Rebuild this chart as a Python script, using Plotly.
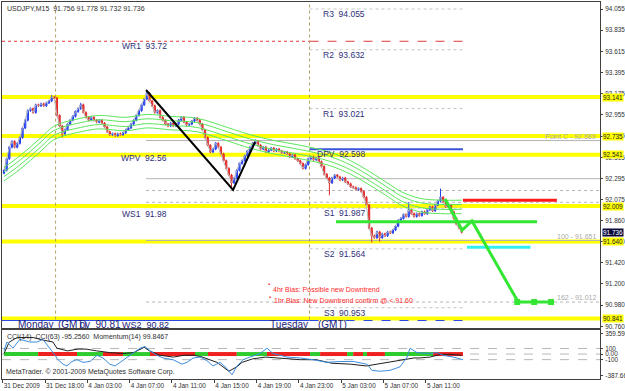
import plotly.graph_objects as go

# ---------------- data ----------------
closes = [
    92.38, 92.50, 92.62, 92.68, 92.62, 92.66, 92.72, 92.82, 92.90, 93.00,
    93.02, 92.98, 93.06, 93.05, 93.07, 93.05, 93.08, 93.10, 93.14, 93.13,
    92.95, 92.84, 92.76, 92.80, 92.86, 92.90, 92.94, 92.99, 93.02, 93.06,
    92.98, 92.93, 92.90, 92.93, 92.90, 92.88, 92.90, 92.87, 92.83, 92.78,
    92.75, 92.76, 92.74, 92.76, 92.75, 92.77, 92.80, 92.82, 92.86, 92.90,
    92.95, 93.00, 93.06, 93.12, 93.18, 93.10, 93.05, 92.98, 93.00, 92.93,
    92.90, 92.86, 92.84, 92.87, 92.84, 92.86, 92.90, 92.93, 92.88, 92.85,
    92.86, 92.89, 92.92, 92.90, 92.86, 92.80, 92.72, 92.64, 92.57, 92.60,
    92.66, 92.62, 92.55, 92.48, 92.40, 92.33, 92.25, 92.30, 92.38, 92.45,
    92.48, 92.53, 92.58, 92.62, 92.66, 92.68, 92.64, 92.60, 92.62, 92.57,
    92.59, 92.61, 92.58, 92.60, 92.58, 92.56, 92.57, 92.55, 92.52, 92.54,
    92.50, 92.48, 92.45, 92.40, 92.44, 92.50, 92.52, 92.49, 92.51, 92.47,
    92.42, 92.34, 92.30, 92.25, 92.30, 92.33, 92.31, 92.28, 92.30, 92.26,
    92.24, 92.21, 92.20, 92.18, 92.19, 92.16, 92.10, 92.02, 91.78, 91.70,
    91.68, 91.74, 91.68, 91.72, 91.70, 91.74, 91.73, 91.76, 91.80, 91.86,
    91.88, 91.92, 91.90, 91.97, 91.93, 91.90, 91.93, 91.91, 91.95, 91.93,
    91.97, 92.00, 91.96, 92.02, 92.06, 92.10, 92.05, 92.00, 92.02, 91.95,
    91.88, 91.82, 91.78, 91.736,
]
hi_idx = [18, 29, 54, 95, 153, 165]
hi_val = [93.16, 93.08, 93.21, 92.70, 92.05, 92.19]
lo_idx = [22, 86, 123, 139, 142]
lo_val = [92.72, 92.19, 92.12, 91.63, 91.64]

ma_bars = [0, 6, 14, 19, 29, 36, 46, 54, 63, 73, 85, 93, 102, 112, 123, 131, 138, 146, 150, 157, 165, 173]
ma_vals = [92.34, 92.46, 92.65, 92.77, 92.85, 92.88, 92.86, 92.89, 92.87, 92.85, 92.75,
           92.68, 92.62, 92.57, 92.50, 92.41, 92.30, 92.16, 92.09, 92.02, 92.00, 92.00]
ma_offsets = [-0.07, -0.025, 0.025, 0.07]

yellow_levels = [93.141, 92.735, 92.541, 92.009, 91.640, 90.841]
weekly_names = ["WR1", "WPV", "WS1", "WS2"]
weekly_vals = [93.72, 92.56, 91.98, 90.82]
daily_names = ["R3", "R2", "R1", "DPV", "S1", "S2", "S3"]
daily_vals = [94.055, 93.632, 93.021, 92.598, 91.987, 91.564, 90.953]
fib_names = ["Point C", "38.2", "50", "61.8", "100", "162"]
fib_vals = [92.689, 92.293, 92.170, 92.048, 91.651, 91.012]
fib_dotted = [False, False, True, True, False, True]
fib_labelled = [True, False, False, False, True, True]

zigzag_bars = [53.7, 86.6, 94.9]
zigzag_vals = [93.214, 92.176, 92.674]
proj_bars = [166.7, 173.2, 176.9, 194.0]
proj_vals = [92.082, 91.76, 91.854, 91.03]
target_bars = [194.0, 200.4, 206.8]
target_val = 91.012
green_lvl_bars = [125.5, 201.5]
green_lvl = 91.845
red_lvl_bars = [173.5, 209.0]
red_lvl = 92.07
cyan_lvl_bars = [175.0, 199.0]
cyan_lvl = 91.58
day_sep_bars = [19.5, 115.5]
current_price = 91.736

price_ticks = [94.055, 93.835, 93.615, 93.395, 93.175, 92.955, 92.735, 92.515,
               92.295, 92.075, 91.860, 91.640, 91.420, 91.200, 90.980, 90.760]
time_tick_bars = [-0.5, 15.5, 31.5, 47.5, 63.5, 79.5, 95.5, 111.5, 127.5, 143.5, 159.5]
time_tick_text = ["31 Dec 2009", "31 Dec 18:00", "4 Jan 03:00", "4 Jan 07:00", "4 Jan 11:00",
                  "4 Jan 15:00", "4 Jan 19:00", "4 Jan 23:00", "5 Jan 03:00", "5 Jan 07:00",
                  "5 Jan 11:00"]

cci_black_bars = [0, 2, 5, 11, 15, 18.5, 20, 24, 28, 31, 35, 40, 45, 49, 53, 55, 59, 64, 68, 72,
                  75, 78, 80.5, 85, 88, 90, 94, 99, 105, 112, 118, 124, 131, 137, 141, 145, 150,
                  155, 157, 161, 165, 169, 173]
cci_black_vals = [10, 216, 296, 296, 248, 216, 105, 57, 89, 89, 57, 26, 10, 26, 121, 57, -22, -54,
                  -22, -22, -54, -101, -149, -308, -229, -149, -86, -54, -70, -101, -101, -165,
                  -181, -213, -181, -149, -101, -70, -70, -54, -6, -6, -22]
cci_blue_bars = [0, 1.1, 3.4, 6, 9.8, 12.5, 14.7, 17.4, 19.3, 20.4, 22.3, 23.8, 25.7, 27.6, 29.9,
                 32.5, 35.2, 37.4, 40, 42, 43.9, 46.5, 48.8, 51.4, 53.3, 55.2, 57.8, 60.1, 63.9,
                 67.3, 69.2, 71.5, 74.1, 76.7, 79, 81.7, 84.3, 86.2, 88.1, 90.4, 93, 96.8, 99.4,
                 101.7, 107, 111.9, 116.8, 122.1, 127, 132, 137.2, 139.1, 142.2, 145.9, 149.7,
                 152.4, 153.5, 156.1, 161, 163.7, 166, 169.8, 173.5]
cci_blue_vals = [57, 216, 105, 264, 216, 216, 264, 105, -22, -101, -181, -213, -133, -101, -149,
                 -133, -22, -70, -181, -213, -149, -54, 26, 105, 137, 57, -22, -70, -101, -181,
                 -149, -70, -54, -117, -213, -149, -260, -372, -213, -101, -54, 10, 105, 10, -54,
                 -70, -101, -149, -133, -133, -181, -292, -308, -292, -229, -54, 105, 26, 10, 26,
                 -22, -54, -101]
cci_levels = [100, 0, -100]
sign_edges = [0, 12.9, 27.6, 37.4, 45, 55.2, 72.2, 77.1, 88, 99.4, 115.7, 119.5, 129.7, 132,
              135.7, 137.2, 144, 162.2, 173.5]
sign_cols = ["g", "r", "g", "r", "g", "r", "g", "r", "g", "r", "g", "r", "g", "r", "g", "r",
             "g", "r"]
ind_ticks = [359.59, 100, 0, -100, -387.663]
ind_tick_text = ["359.590", "100", "0.00", "-100", "-387.663"]

# ---------------- geometry ----------------
W, H = 625, 391
ML, MR, MT, MB = 2, 25, 2, 12
X_RANGE = [-0.756, 225.3]
Y_MAIN = [90.7425, 94.1277]
Y_IND = [-447, 431]
FONT = "Liberation Sans, Arial, sans-serif"
NAVY = "#2e2e78"
NB = "\u00a0"
AXIS_FS = 6.4

n = len(closes)
bars = list(range(n))
opens = [closes[0] - 0.03] + closes[:-1]
highs = [max(o, c) + 0.012 for o, c in zip(opens, closes)]
lows = [min(o, c) - 0.012 for o, c in zip(opens, closes)]
for i, v in zip(hi_idx, hi_val):
    highs[i] = v
for i, v in zip(lo_idx, lo_val):
    lows[i] = v

fig = go.Figure()
shapes = []
ann = []

def hline(y, color, width, dash="solid", x0=None, x1=None, yref="y", layer="below"):
    if x0 is None:
        shapes.append(dict(type="line", xref="paper", x0=0, x1=1, yref=yref, y0=y, y1=y,
                           line=dict(color=color, width=width, dash=dash), layer=layer))
    else:
        shapes.append(dict(type="line", xref="x", x0=x0, x1=x1, yref=yref, y0=y, y1=y,
                           line=dict(color=color, width=width, dash=dash), layer=layer))

last_bar = n - 0.5
for name, v, dotted in zip(fib_names, fib_vals, fib_dotted):
    hline(v, "#b4b4b4", 1, "dot" if dotted else "solid", zigzag_bars[0], X_RANGE[1])
for name, v in zip(daily_names, daily_vals):
    if name == "DPV":
        hline(v, "#3a55d8", 2, "solid", day_sep_bars[1], last_bar)
    else:
        hline(v, "#c4c4c4", 1, "dot", day_sep_bars[1], last_bar)
hline(weekly_vals[0], "#e03a3a", 1, "dot", X_RANGE[0], day_sep_bars[1])
hline(weekly_vals[0], "#e03a3a", 1, "dash", day_sep_bars[1], last_bar)
hline(weekly_vals[3], "#2a48e0", 1, "solid", X_RANGE[0], day_sep_bars[1])
hline(weekly_vals[3], "#2a48e0", 1, "dash", day_sep_bars[1], last_bar)
for v in yellow_levels:
    hline(v, "#ffff00", 4)
for b in day_sep_bars:
    shapes.append(dict(type="line", xref="x", x0=b, x1=b, yref="y", y0=90.83, y1=Y_MAIN[1],
                       line=dict(color="#b0a060", width=1, dash="dot"), layer="below"))
for v in cci_levels:
    hline(v, "#b8b8b8", 1, "dash", yref="y2")

fig.add_trace(go.Scatter(x=bars, y=closes, mode="lines", line=dict(color="#b8b8b8", width=1),
                         hoverinfo="skip", showlegend=False))
for off in ma_offsets:
    fig.add_trace(go.Scatter(x=ma_bars, y=[v + off for v in ma_vals], mode="lines",
                             line=dict(color="#5be65b", width=1, shape="spline"),
                             hoverinfo="skip", showlegend=False))
fig.add_trace(go.Candlestick(x=bars, open=opens, high=highs, low=lows, close=closes,
                             increasing=dict(line=dict(color="#1f3cf0", width=1), fillcolor="#5d7cff"),
                             decreasing=dict(line=dict(color="#e02828", width=1), fillcolor="#f05050"),
                             whiskerwidth=0, hoverinfo="skip", showlegend=False))
fig.add_trace(go.Scatter(x=zigzag_bars, y=zigzag_vals, mode="lines",
                         line=dict(color="#000000", width=2), showlegend=False, hoverinfo="skip"))
fig.add_trace(go.Scatter(x=green_lvl_bars, y=[green_lvl] * 2, mode="lines",
                         line=dict(color="#33e633", width=3), showlegend=False, hoverinfo="skip"))
fig.add_trace(go.Scatter(x=red_lvl_bars, y=[red_lvl] * 2, mode="lines",
                         line=dict(color="#ff1a1a", width=3), showlegend=False, hoverinfo="skip"))
fig.add_trace(go.Scatter(x=cyan_lvl_bars, y=[cyan_lvl] * 2, mode="lines",
                         line=dict(color="#33f0f0", width=3), showlegend=False, hoverinfo="skip"))
fig.add_trace(go.Scatter(x=proj_bars, y=proj_vals, mode="lines",
                         line=dict(color="#33e633", width=3), showlegend=False, hoverinfo="skip"))
fig.add_trace(go.Scatter(x=target_bars, y=[target_val] * 3, mode="lines+markers",
                         line=dict(color="#33e633", width=3),
                         marker=dict(symbol="square", size=6, color="#33e633"),
                         showlegend=False, hoverinfo="skip"))

clip_text = ["Monday", "(GMT)", "pv" + NB + NB + "90.81", "Tuesday", "(GMT)"]
clip_bars = [5.3, 20.4, 28.5, 100.6, 118.7]
fig.add_trace(go.Scatter(x=clip_bars, y=[90.765] * len(clip_bars), mode="text", text=clip_text,
                         textposition="middle right", cliponaxis=True,
                         textfont=dict(family=FONT, size=10, color="#22227a"),
                         showlegend=False, hoverinfo="skip"))
fig.add_trace(go.Scatter(x=[62.4], y=[90.765], mode="text", text=["WS2" + NB + NB + "90.82"],
                         textposition="middle left", cliponaxis=True,
                         textfont=dict(family=FONT, size=9, color="#22227a"),
                         showlegend=False, hoverinfo="skip"))

for a, b, c in zip(sign_edges[:-1], sign_edges[1:], sign_cols):
    fig.add_trace(go.Scatter(x=[a, b], y=[0, 0], xaxis="x2", yaxis="y2", mode="lines",
                             line=dict(color="#2ecc2e" if c == "g" else "#ee2020", width=4),
                             showlegend=False, hoverinfo="skip"))
fig.add_trace(go.Scatter(x=cci_black_bars, y=cci_black_vals, xaxis="x2", yaxis="y2", mode="lines",
                         line=dict(color="#202020", width=1), showlegend=False, hoverinfo="skip"))
fig.add_trace(go.Scatter(x=cci_blue_bars, y=cci_blue_vals, xaxis="x2", yaxis="y2", mode="lines",
                         line=dict(color="#3c8ee0", width=1), showlegend=False, hoverinfo="skip"))

def text(x, y, s, size=7, color="#303030", xanchor="left", yanchor="middle", xref="x", yref="y",
         xshift=0, yshift=0, bg=None):
    d = dict(x=x, y=y, xref=xref, yref=yref, text=s, showarrow=False, xanchor=xanchor,
             yanchor=yanchor, xshift=xshift, yshift=yshift,
             font=dict(family=FONT, size=size, color=color))
    if bg:
        d.update(bgcolor=bg, borderpad=0)
    ann.append(d)

text(0, 1, "USDJPY,M15" + NB + NB + "91.756 91.778 91.732 91.736", size=7, xref="paper",
     yref="paper", yanchor="top", xshift=3, yshift=-1)
for name, v in zip(weekly_names[:3], weekly_vals[:3]):
    text(62.4, v, name + NB + NB + "%.2f" % v, size=8.5, color=NAVY, xanchor="right", yshift=-5)
for name, v in zip(daily_names, daily_vals):
    text(137.2, v, name + NB + NB + "%.3f" % v, size=8.5, color=NAVY, xanchor="right", yshift=-5)
for name, v, lab in zip(fib_names, fib_vals, fib_labelled):
    if lab:
        text(1, v, name + " - " + "%.3f" % v, size=7, color="#a8a8a8", xanchor="right",
             yanchor="bottom", xref="paper", xshift=-2, yshift=-1)
text(100.2, 91.199, "\u25aa", size=6, color="#ff2a2a", xanchor="center")
text(100.9, 91.147, "4hr Bias: Possible new Downtrend", size=7, color="#ff2a2a")
text(100.6, 91.064, "\u25aa", size=6, color="#ff2a2a", xanchor="center")
text(101.3, 91.023, "1hr Bias: New Downtrend confirm @ < 91.60", size=7, color="#ff2a2a")
for v in yellow_levels:
    text(1, v, "%.3f" % v, size=AXIS_FS, color="#202020", xref="paper", xshift=2, bg="#ffff00")
text(1, current_price, "%.3f" % current_price, size=AXIS_FS, color="#ffffff", xref="paper",
     xshift=2, bg="#0a0a3a")
text(0, 1, "CCI(14)" + NB + NB + "CCI(63) -95.2560" + NB + NB + "Momentum(14) 99.8467", size=7,
     color="#303030", xref="paper", yref="y2 domain", yanchor="top", xshift=3, yshift=-1)
text(0, 0, "MetaTrader. \u00a9 2001-2009 MetaQuotes Software Corp.", size=7, color="#303030",
     xref="paper", yref="y2 domain", yanchor="bottom", xshift=2, yshift=1)

axis_line = "#404040"
fig.update_layout(
    width=W, height=H, margin=dict(l=ML, r=MR, t=MT, b=MB, autoexpand=False),
    paper_bgcolor="#ffffff", plot_bgcolor="#ffffff",
    font=dict(family=FONT, size=7, color="#303030"),
    showlegend=False, shapes=shapes, annotations=ann,
    xaxis=dict(domain=[0, 1], anchor="y", range=X_RANGE, showticklabels=False, showgrid=False,
               zeroline=False, showline=True, mirror=True, linecolor=axis_line, linewidth=1,
               rangeslider=dict(visible=False), ticks="", automargin=False),
    xaxis2=dict(domain=[0, 1], anchor="y2", matches="x", range=X_RANGE, tickvals=time_tick_bars,
                ticktext=time_tick_text, ticks="outside", ticklen=3, tickcolor=axis_line,
                tickangle=0, automargin=False,
                ticklabelposition="outside right", showgrid=False, zeroline=False, showline=True,
                mirror=True, linecolor=axis_line, linewidth=1,
                tickfont=dict(family=FONT, size=AXIS_FS, color="#303030")),
    yaxis=dict(domain=[0.1353, 1], anchor="x", side="right", range=Y_MAIN, tickvals=price_ticks,
               ticktext=["%.3f" % v for v in price_ticks], ticks="outside", ticklen=2,
               ticklabelstandoff=1,
               tickcolor=axis_line, showgrid=False, zeroline=False, showline=True, mirror=True,
               automargin=False,
               linecolor=axis_line, linewidth=1,
               tickfont=dict(family=FONT, size=AXIS_FS, color="#303030")),
    yaxis2=dict(domain=[0, 0.12997], anchor="x2", side="right", range=Y_IND, tickvals=ind_ticks,
                ticktext=ind_tick_text, ticks="outside", ticklen=2, tickcolor=axis_line,
                ticklabelstandoff=1, automargin=False,
                showgrid=False, zeroline=False, showline=True, mirror=True, linecolor=axis_line,
                linewidth=1, tickfont=dict(family=FONT, size=AXIS_FS, color="#303030")),
)
fig.write_html("out.html")
